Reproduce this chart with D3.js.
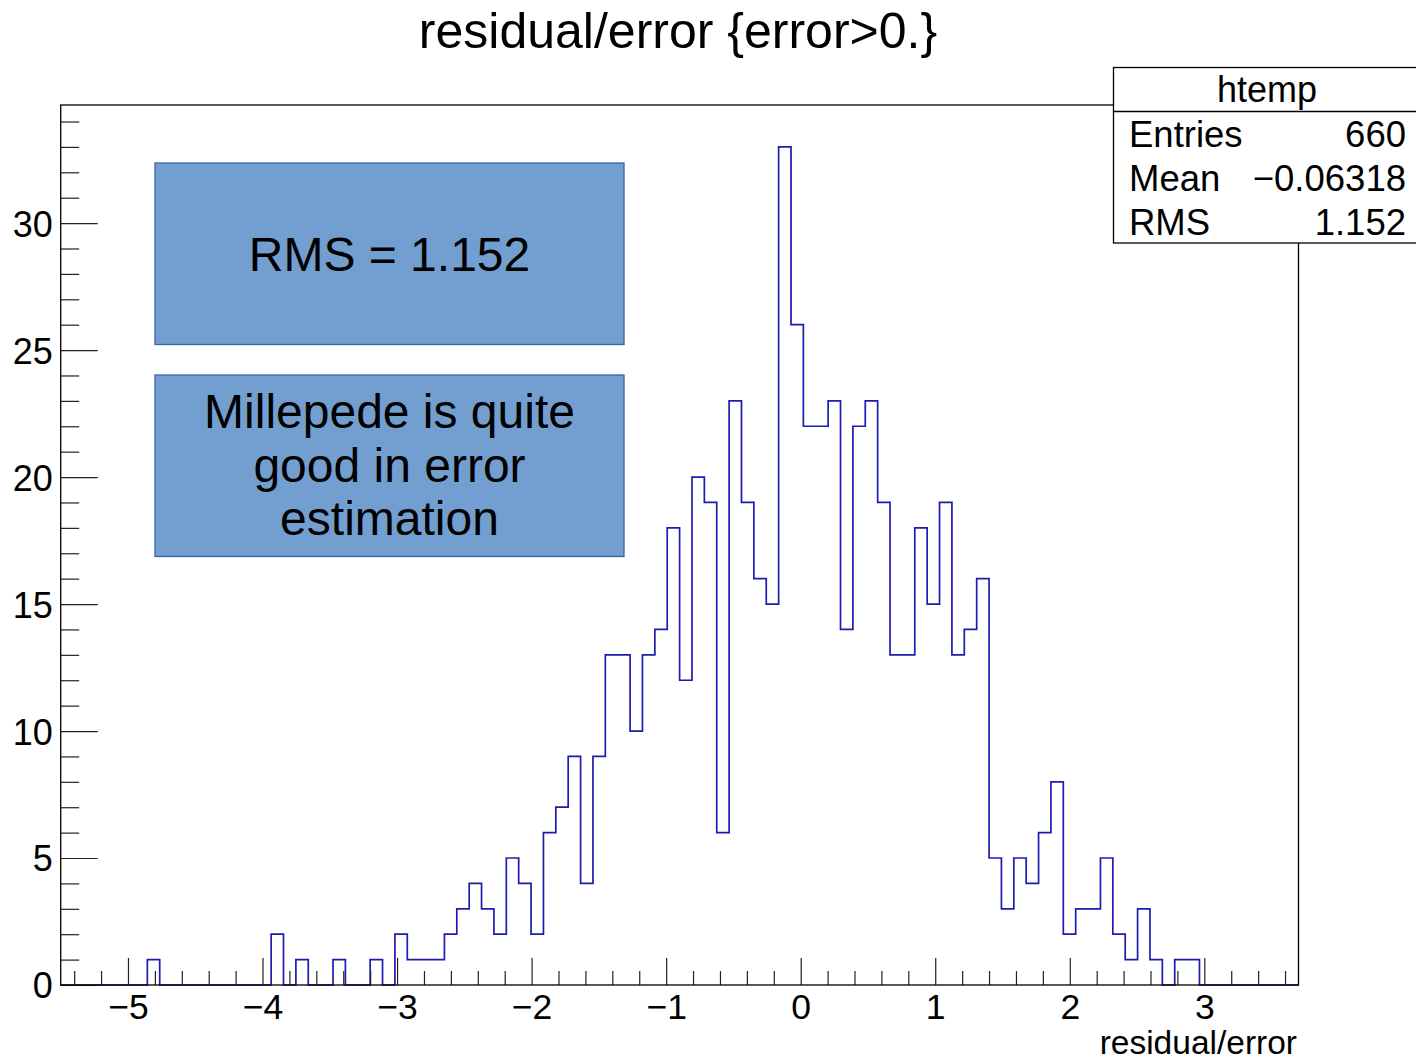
<!DOCTYPE html>
<html>
<head>
<meta charset="utf-8">
<script src="https://cdn.jsdelivr.net/npm/d3@7/dist/d3.min.js"></script>
<style>
  html, body { margin: 0; padding: 0; background: #fff; }
  svg { display: block; font-family: "Liberation Sans", Arial, Helvetica, sans-serif; }
</style>
</head>
<body>
<script>
// Histogram "htemp": residual/error for entries with error > 0
const xRange = [-5.5, 3.7];
const counts = [
  0, 0, 0, 0, 0, 0, 0, 1, 0, 0,
  0, 0, 0, 0, 0, 0, 0, 2, 0, 1,
  0, 0, 1, 0, 0, 1, 0, 2, 1, 1,
  1, 2, 3, 4, 3, 2, 5, 4, 2, 6,
  7, 9, 4, 9, 13, 13, 10, 13, 14, 18,
  12, 20, 19, 6, 23, 19, 16, 15, 33, 26,
  22, 22, 23, 14, 22, 23, 19, 13, 13, 18,
  15, 19, 13, 14, 16, 5, 3, 5, 4, 6,
  8, 2, 3, 3, 5, 2, 1, 3, 1, 0,
  1, 1, 0, 0, 0, 0, 0, 0, 0, 0
];
const xMajorTicks = [-5, -4, -3, -2, -1, 0, 1, 2, 3];
const yMajorTicks = [0, 5, 10, 15, 20, 25, 30];
const title = "residual/error {error>0.}";
const xTitle = "residual/error";
const statsName = "htemp";
const statsLabels = ["Entries", "Mean", "RMS"];
const statsValues = ["660", "\u22120.06318", "1.152"];
const noteRms = ["RMS = 1.152"];
const noteText = ["Millepede is quite", "good in error", "estimation"];

const W = 1416, H = 1061;
const frame = { left: 60.7, right: 1298.5, top: 105, bottom: 985 };
const yMax = d3.max(counts) * 1.05;

const svg = d3.select("body").append("svg").attr("width", W).attr("height", H);

const x = d3.scaleLinear().domain(xRange).range([frame.left, frame.right]);
const y = d3.scaleLinear().domain([0, yMax]).range([frame.bottom, frame.top]);

const nBins = counts.length;
const binW = (xRange[1] - xRange[0]) / nBins;
const edges = d3.range(nBins + 1).map(i => xRange[0] + i * binW);

// minus sign like ROOT
const fmt = v => (v < 0 ? "\u2212" + Math.abs(v) : String(v));

// histogram outline as steps
const pts = [[edges[0], 0]];
counts.forEach((c, i) => { pts.push([edges[i], c]); pts.push([edges[i + 1], c]); });
pts.push([edges[nBins], 0]);
const line = d3.line().x(d => x(d[0])).y(d => y(d[1]));

svg.append("path")
  .attr("d", line(pts))
  .attr("fill", "none")
  .attr("stroke", "#1c1cb0")
  .attr("stroke-width", 1.7);

// axes (ticks pointing into the frame)
const xMinor = d3.range(-5.4, 3.61, 0.2).map(v => Math.round(v * 10) / 10)
  .filter(v => !xMajorTicks.includes(v));
const yMinor = d3.range(0, Math.floor(yMax) + 1).filter(v => !yMajorTicks.includes(v));

const gxMinor = svg.append("g").attr("transform", `translate(0,${frame.bottom})`)
  .call(d3.axisBottom(x).tickValues(xMinor).tickSize(-14).tickFormat(""));
const gx = svg.append("g").attr("transform", `translate(0,${frame.bottom})`)
  .call(d3.axisBottom(x).tickValues(xMajorTicks).tickSize(-27).tickPadding(8).tickFormat(fmt));
const gyMinor = svg.append("g").attr("transform", `translate(${frame.left},0)`)
  .call(d3.axisLeft(y).tickValues(yMinor).tickSize(-18.5).tickFormat(""));
const gy = svg.append("g").attr("transform", `translate(${frame.left},0)`)
  .call(d3.axisLeft(y).tickValues(yMajorTicks).tickSize(-37).tickPadding(8).tickFormat(fmt));

[gxMinor, gx, gyMinor, gy].forEach(g => {
  g.select(".domain").remove();
  g.selectAll(".tick line").attr("stroke", "#222").attr("stroke-width", 1.2);
});
gx.selectAll(".tick text")
  .attr("font-size", 35.5).attr("fill", "#000").attr("dy", null).attr("y", 33.5);
gy.selectAll(".tick text")
  .attr("font-size", 36).attr("fill", "#000").attr("x", -8).attr("dy", "0.36em");

// frame
svg.append("rect")
  .attr("x", frame.left).attr("y", frame.top)
  .attr("width", frame.right - frame.left).attr("height", frame.bottom - frame.top)
  .attr("fill", "none").attr("stroke", "#000").attr("stroke-width", 1.3);

// title
svg.append("text").attr("x", 678).attr("y", 48)
  .attr("text-anchor", "middle").attr("font-size", 50).text(title);

// x-axis title
svg.append("text").attr("x", 1297).attr("y", 1053.5)
  .attr("text-anchor", "end").attr("font-size", 33.5).text(xTitle);

// stats box
const sb = { x: 1113.5, y: 67.5, w: 320, h: 175.5, head: 44 };
svg.append("rect").attr("x", sb.x).attr("y", sb.y).attr("width", sb.w).attr("height", sb.h)
  .attr("fill", "#fff").attr("stroke", "#000").attr("stroke-width", 1.3);
svg.append("line").attr("x1", sb.x).attr("x2", sb.x + sb.w)
  .attr("y1", sb.y + sb.head).attr("y2", sb.y + sb.head)
  .attr("stroke", "#000").attr("stroke-width", 1.3);
svg.append("text").attr("x", 1267).attr("y", sb.y + 34)
  .attr("text-anchor", "middle").attr("font-size", 36).text(statsName);
statsLabels.forEach((lab, i) => {
  const by = sb.y + sb.head + 35 + i * 44;
  svg.append("text").attr("x", 1129).attr("y", by).attr("font-size", 36.5).text(lab);
  svg.append("text").attr("x", 1406).attr("y", by).attr("text-anchor", "end")
    .attr("font-size", 36.5).text(statsValues[i]);
});

// annotation boxes
const notes = [
  { x: 155, y: 163, w: 469, h: 181.5, lines: noteRms, base: 271, step: 0 },
  { x: 155, y: 375, w: 469, h: 181.5, lines: noteText, base: 428, step: 53.5 }
];
notes.forEach(n => {
  svg.append("rect").attr("x", n.x).attr("y", n.y).attr("width", n.w).attr("height", n.h)
    .attr("fill", "#729fcf").attr("stroke", "#3465a4").attr("stroke-width", 1.3);
  n.lines.forEach((t, i) => {
    svg.append("text").attr("x", n.x + n.w / 2).attr("y", n.base + i * n.step)
      .attr("text-anchor", "middle").attr("font-size", 48).attr("fill", "#000").text(t);
  });
});
</script>
</body>
</html>
